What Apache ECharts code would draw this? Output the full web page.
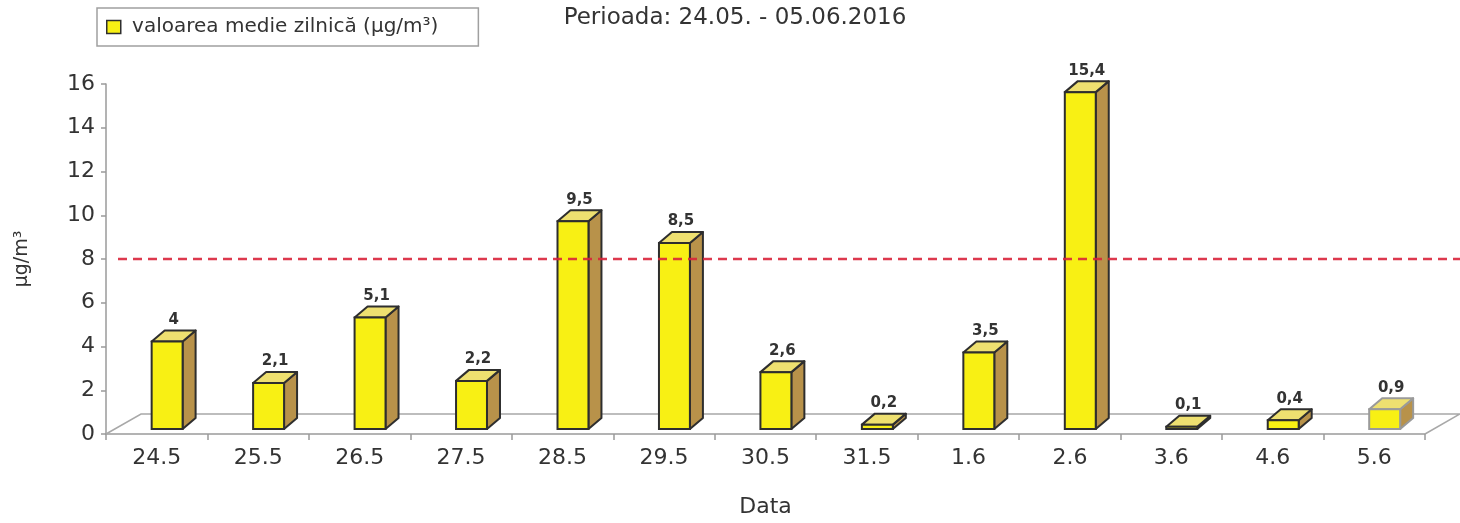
<!DOCTYPE html>
<html><head><meta charset="utf-8">
<script src="https://cdn.jsdelivr.net/npm/echarts@6/dist/echarts.min.js"></script>
<style>html,body{margin:0;padding:0;background:#fff;overflow:hidden}#c{width:1460px;height:523px}</style>
</head><body><div id="c"></div>
<script>
const categories = ['24.5','25.5','26.5','27.5','28.5','29.5','30.5','31.5','1.6','2.6','3.6','4.6','5.6'];
const values = [4, 2.1, 5.1, 2.2, 9.5, 8.5, 2.6, 0.2, 3.5, 15.4, 0.1, 0.4, 0.9];
const yTicks = [0, 2, 4, 6, 8, 10, 12, 14, 16];
const limitValue = 8;
const seriesName = 'valoarea medie zilnică (µg/m³)';
const titleText = 'Perioada: 24.05. - 05.06.2016';

const FONT = '"DejaVu Sans", "Liberation Sans", Arial, sans-serif';
const TXT = '#333';
const FRONT = '#f8f014';
const TOP = '#eee070';
const SIDE = '#b8924a';
const EDGE = '#2e2e2e';

const chart = echarts.init(document.getElementById('c'), null, {renderer: 'canvas'});

function barItem(params, api) {
  const idx = api.value(0), v = api.value(1);
  const p0 = api.coord([idx, 0]);
  const p1 = api.coord([idx, v]);
  const bw = api.size([1, 0])[0];
  const w = bw * 0.305;
  const left = p0[0] - bw * 0.05;
  const base = p0[1] - 5;
  const top = p1[1] - 5;
  const dx = 13, dy = -11;
  const right = left + w;
  const last = idx === categories.length - 1;
  const stroke = last ? '#9a9a9a' : EDGE;
  const lw = 2;
  const label = String(v).replace('.', ',');
  return {
    type: 'group',
    children: [
      {type: 'polygon', shape: {points: [[right, base], [right + dx, base + dy], [right + dx, top + dy], [right, top]]},
        style: {fill: SIDE, stroke: stroke, lineWidth: lw, lineJoin: 'round'}},
      {type: 'polygon', shape: {points: [[left, top], [left + dx, top + dy], [right + dx, top + dy], [right, top]]},
        style: {fill: TOP, stroke: stroke, lineWidth: lw, lineJoin: 'round'}},
      {type: 'rect', shape: {x: left, y: top, width: w, height: base - top},
        style: {fill: FRONT, stroke: stroke, lineWidth: lw}},
      {type: 'text', x: left + (w + dx) / 2, y: top + dy - 3,
        style: {text: label, fill: TXT, font: 'bold 15px ' + FONT, textAlign: 'center', textVerticalAlign: 'bottom'}}
    ]
  };
}

function floorItem(params, api) {
  const cs = params.coordSys;
  const y0 = api.coord([0, 0])[1];
  const ddx = 35, ddy = -20;
  const x0 = cs.x, x1 = cs.x + cs.width;
  return {
    type: 'polyline', shape: {points: [[x0, y0], [x0 + ddx, y0 + ddy], [x1 + ddx, y0 + ddy], [x1, y0]]},
    style: {fill: null, stroke: '#a8a8a8', lineWidth: 1.5}
  };
}

function limitItem(params, api) {
  const cs = params.coordSys;
  const y = api.coord([0, api.value(1)])[1];
  return {
    type: 'line',
    shape: {x1: cs.x + 12, y1: y, x2: cs.x + cs.width + 40, y2: y},
    style: {stroke: '#d9243a', lineWidth: 2.5, lineDash: [9, 6], opacity: 0.9}
  };
}

chart.setOption({
  animation: false,
  backgroundColor: '#fff',
  textStyle: {fontFamily: FONT},
  title: {
    text: titleText, left: 730, textAlign: 'center', top: 2,
    textStyle: {fontFamily: FONT, fontSize: 23, fontWeight: 'normal', color: TXT}
  },
  legend: {
    left: 97, top: 8,
    padding: [9, 40, 9, 9],
    borderColor: '#a0a0a0', borderWidth: 1.5,
    itemWidth: 14, itemHeight: 13, itemGap: 10,
    formatter: name => ' ' + name,
    textStyle: {fontFamily: FONT, fontSize: 20, color: TXT},
    data: [{name: seriesName, icon: 'rect', itemStyle: {color: FRONT, borderColor: EDGE, borderWidth: 1.5}}]
  },
  grid: {left: 106, right: 35, top: 84, bottom: 78, containLabel: false},
  xAxis: {
    type: 'category', data: categories, boundaryGap: true,
    name: 'Data', nameLocation: 'middle', nameGap: 62,
    nameTextStyle: {fontFamily: FONT, fontSize: 22, color: TXT},
    axisLine: {lineStyle: {color: '#9a9a9a', width: 1.5}},
    axisTick: {show: true, length: 6, lineStyle: {color: '#9a9a9a', width: 1.5}},
    axisLabel: {fontFamily: FONT, fontSize: 22, color: TXT, margin: 13},
    splitLine: {show: false}
  },
  yAxis: {
    type: 'value', min: yTicks[0], max: yTicks[yTicks.length - 1], interval: yTicks[1] - yTicks[0],
    name: 'µg/m³', nameLocation: 'middle', nameGap: 74, nameRotate: 90,
    nameTextStyle: {fontFamily: FONT, fontSize: 19, color: TXT},
    axisLine: {show: true, lineStyle: {color: '#9a9a9a', width: 1.5}},
    axisTick: {show: true, length: 5, lineStyle: {color: '#9a9a9a', width: 1.5}},
    axisLabel: {fontFamily: FONT, fontSize: 22, color: TXT, margin: 11},
    splitLine: {show: false}
  },
  series: [
    {type: 'custom', name: 'floor', silent: true, z: 1, renderItem: floorItem, data: [[0, 0]], clip: false},
    {type: 'custom', name: seriesName, z: 2, renderItem: barItem, clip: false,
      itemStyle: {color: FRONT},
      data: values.map((v, i) => [i, v])},
    {type: 'custom', name: 'limit', silent: true, z: 3, renderItem: limitItem, clip: false, data: [[0, limitValue]]}
  ]
});
</script></body></html>
